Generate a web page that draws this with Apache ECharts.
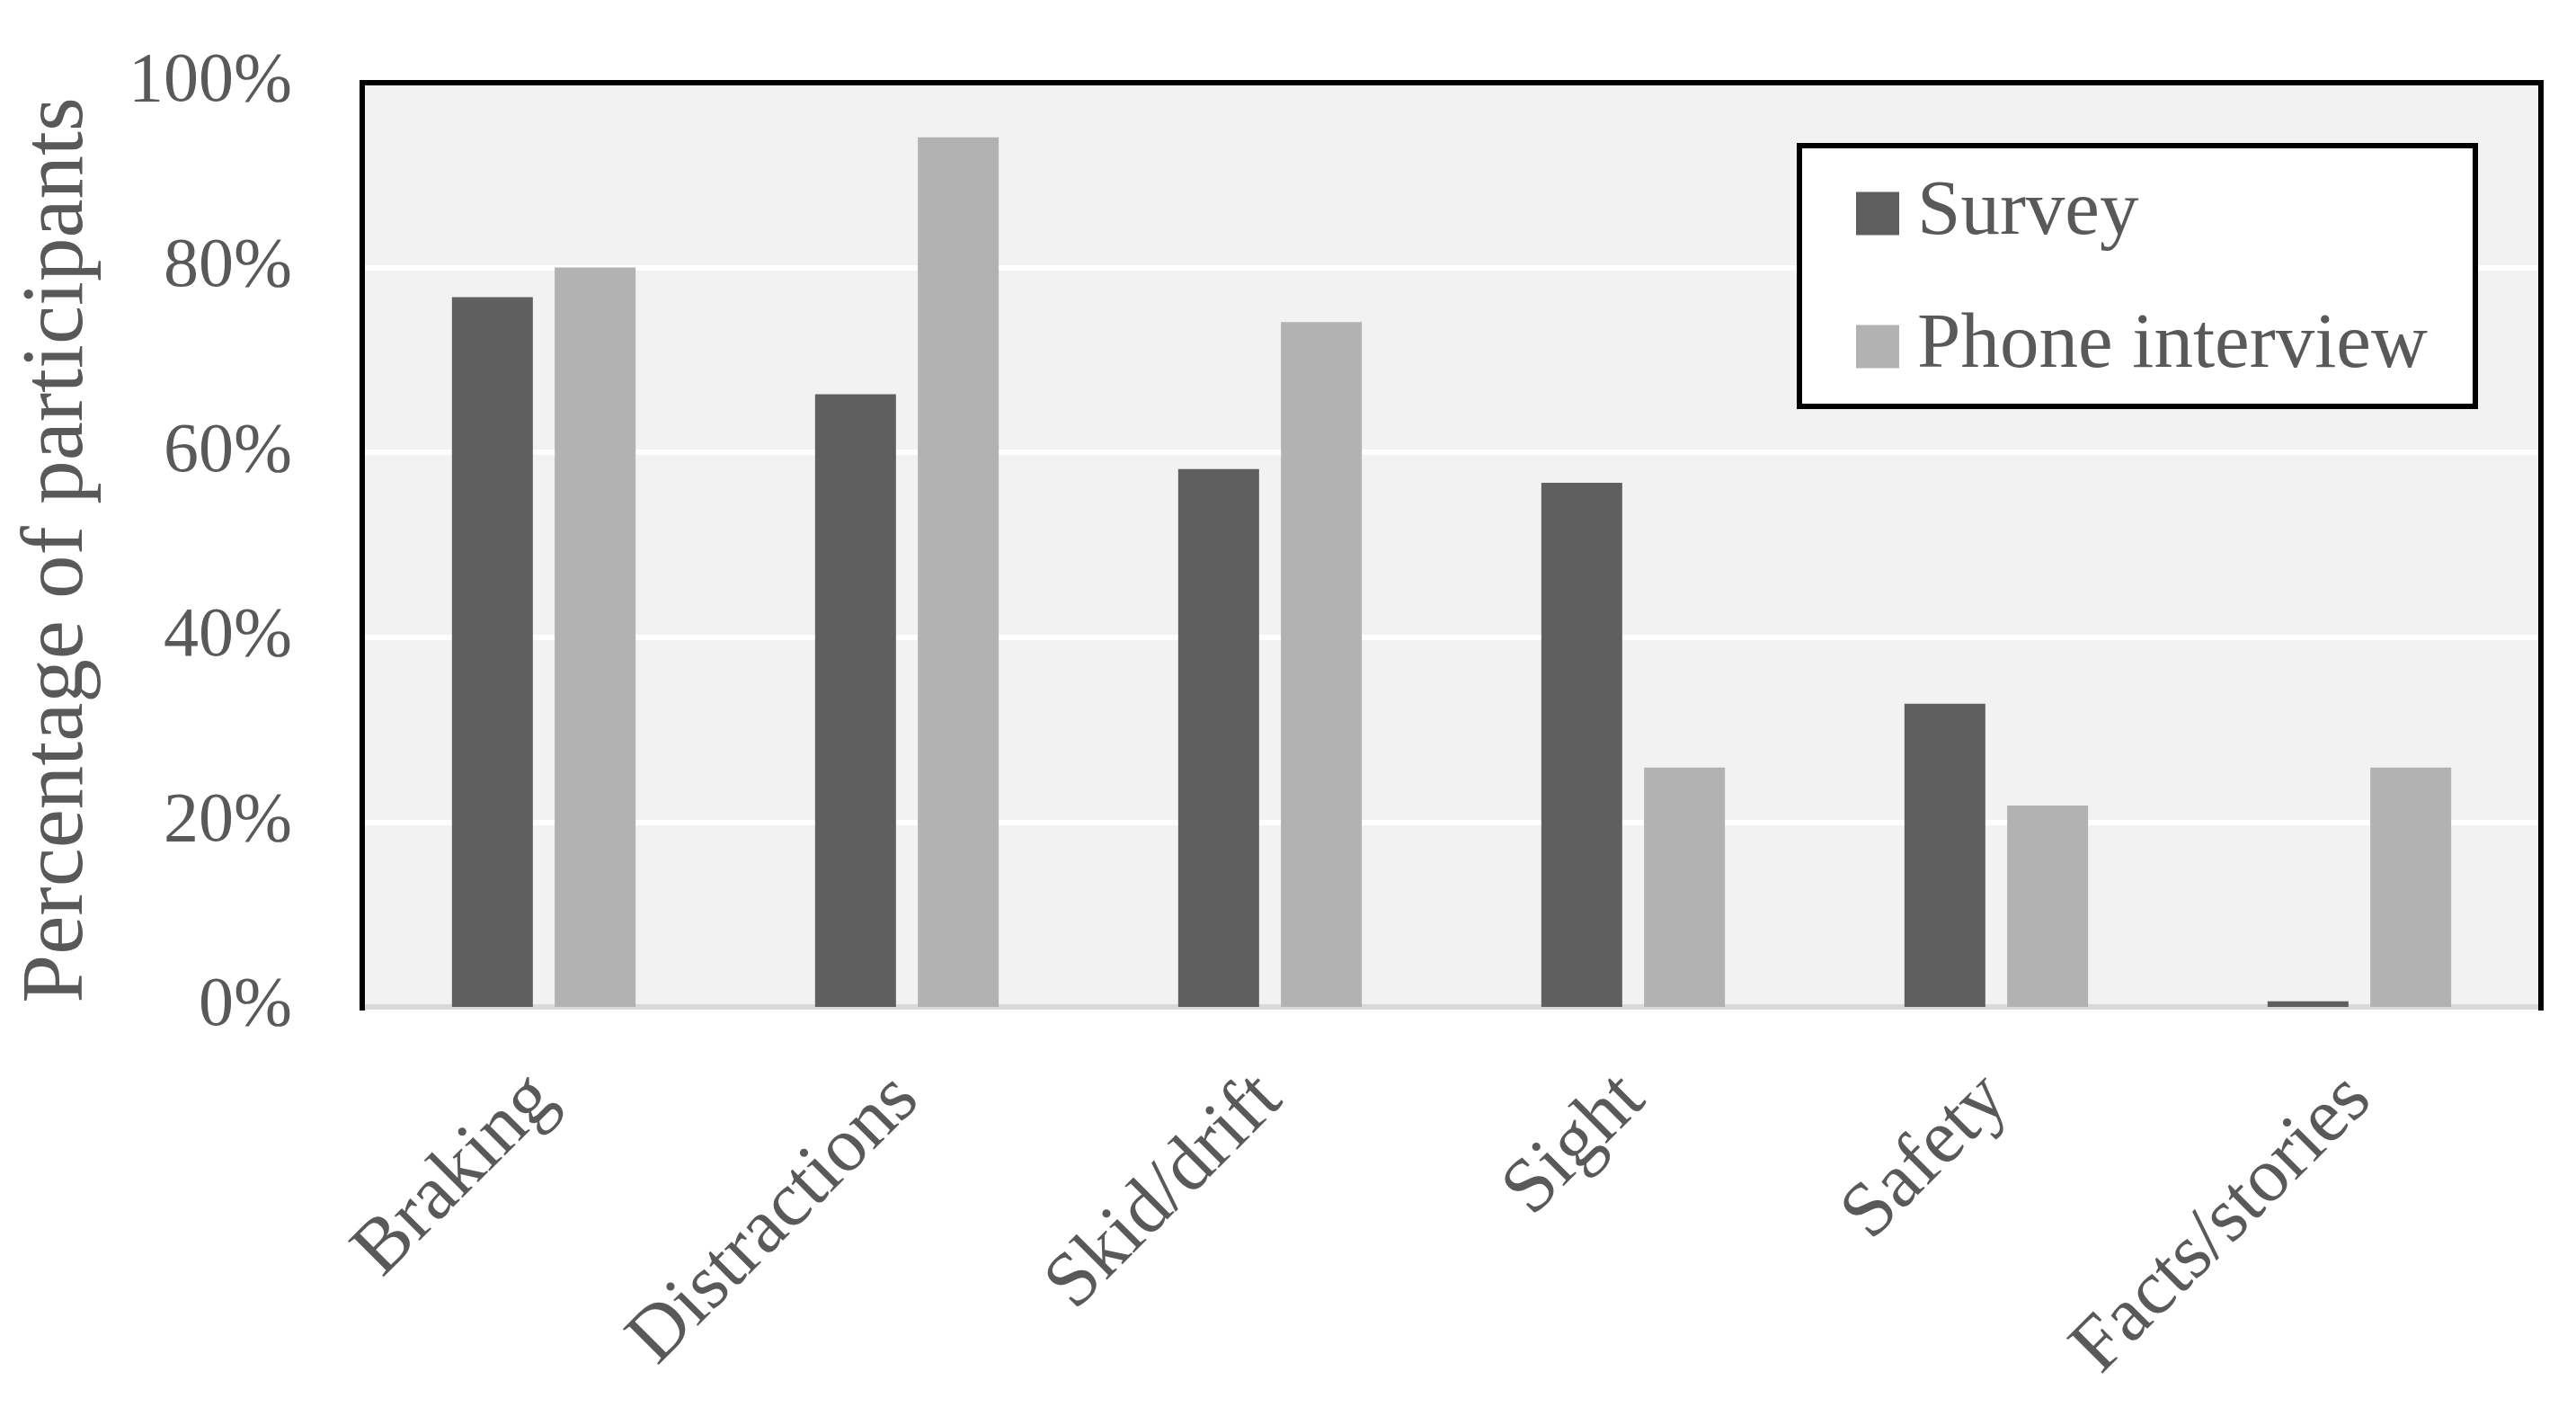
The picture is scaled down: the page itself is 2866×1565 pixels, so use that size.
<!DOCTYPE html>
<html>
<head>
<meta charset="utf-8">
<script src="https://cdn.jsdelivr.net/npm/echarts@6/dist/echarts.min.js"></script>
<style>
html,body{margin:0;padding:0;background:#fff;}
#chart{width:2866px;height:1565px;}
</style>
</head>
<body>
<div id="chart"></div>
<script>
var categories = ['Braking', 'Distractions', 'Skid/drift', 'Sight', 'Safety', 'Facts/stories'];
var surveyValues = [76.8, 66.3, 58.2, 56.7, 32.8, 0.6];
var phoneValues = [80.0, 94.1, 74.1, 25.9, 21.8, 25.9];
var seriesNames = ['Survey', 'Phone interview'];
var yTicks = [0, 20, 40, 60, 80, 100];
var yTitle = 'Percentage of participants';

var FONT = '"Liberation Serif", "DejaVu Serif", serif';
var TXT = '#595959';

var G = {left: 403, right: 39, top: 92, bottom: 445};
var W = 2866, H = 1565;

var chart = echarts.init(document.getElementById('chart'), null, {renderer: 'canvas'});
chart.setOption({
  backgroundColor: '#ffffff',
  animation: false,
  grid: {
    left: G.left, right: G.right, top: G.top, bottom: G.bottom,
    show: true, backgroundColor: '#f2f2f2', borderWidth: 0
  },
  graphic: [
    {
      type: 'polyline', z: 40,
      shape: {points: [[G.left, H - G.bottom + 4], [G.left, G.top], [W - G.right, G.top], [W - G.right, H - G.bottom + 4]]},
      style: {fill: null, stroke: '#000000', lineWidth: 6}
    },
    {
      type: 'rect', z: 50,
      shape: {x: 2002, y: 162, width: 752, height: 290},
      style: {fill: '#ffffff', stroke: '#000000', lineWidth: 6}
    },
    {
      type: 'text', z: 50,
      x: 66, y: 612, rotation: Math.PI / 2,
      style: {
        text: yTitle, fill: TXT, font: '97px ' + FONT,
        textAlign: 'center', textVerticalAlign: 'middle'
      }
    }
  ],
  legend: {
    data: seriesNames,
    orient: 'vertical',
    left: 2065, top: 194,
    padding: 0,
    itemWidth: 48, itemHeight: 48, itemGap: 61,
    icon: 'rect',
    z: 60,
    textStyle: {color: TXT, fontFamily: FONT, fontSize: 87, padding: [0, 0, 0, 15]}
  },
  xAxis: {
    type: 'category',
    data: categories,
    axisLine: {show: true, lineStyle: {color: '#d9d9d9', width: 6}},
    axisTick: {show: false},
    axisLabel: {rotate: 45, margin: 90, color: TXT, fontFamily: FONT, fontSize: 86, interval: 0}
  },
  yAxis: {
    type: 'value',
    min: 0, max: 100, interval: 20,
    axisLine: {show: false},
    axisTick: {show: false},
    splitLine: {show: true, lineStyle: {color: '#ffffff', width: 6}},
    axisLabel: {
      margin: 78, color: TXT, fontFamily: FONT, fontSize: 78,
      formatter: function (v) { return yTicks.indexOf(v) >= 0 ? v + '%' : ''; }
    }
  },
  series: [
    {name: seriesNames[0], type: 'bar', data: surveyValues, barWidth: 90, barGap: '27%',
     itemStyle: {color: '#5f5f5f'}},
    {name: seriesNames[1], type: 'bar', data: phoneValues, barWidth: 90, barGap: '27%',
     itemStyle: {color: '#b2b2b2'}}
  ]
});
</script>
</body>
</html>
